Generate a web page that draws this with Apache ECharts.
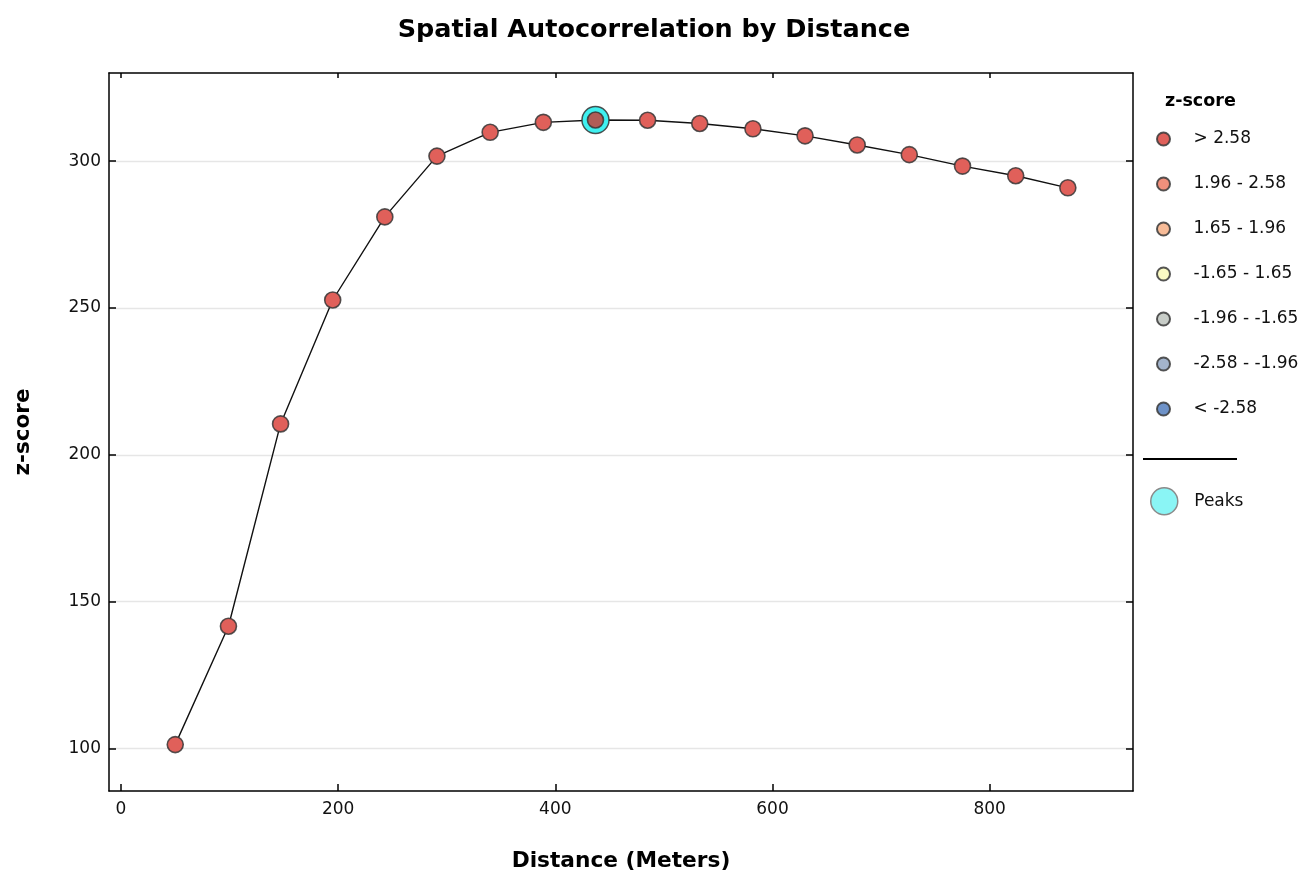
<!DOCTYPE html>
<html><head><meta charset="utf-8">
<script src="https://cdn.jsdelivr.net/npm/echarts@6/dist/echarts.min.js"></script>
<style>html,body{margin:0;padding:0;background:#fff}#c{width:1308px;height:871px}</style>
</head><body><div id="c"></div>
<script>
const distances = [50, 99, 147, 195, 243, 291, 340, 389, 437, 485, 533, 582, 630, 678, 726, 775, 824, 872];
const zScores = [101.3, 141.6, 210.5, 252.7, 281.0, 301.7, 309.8, 313.2, 314.0, 313.9, 312.8, 311.0, 308.6, 305.5, 302.2, 298.3, 295.0, 290.9];
const peakIndexes = [8];
const xTicks = [0, 200, 400, 600, 800];
const yTicks = [100, 150, 200, 250, 300];
const classNames = ['> 2.58', '1.96 - 2.58', '1.65 - 1.96', '-1.65 - 1.65', '-1.96 - -1.65', '-2.58 - -1.96', '< -2.58'];
const classColors = ['#e0605a', '#f0907c', '#f8bc98', '#fbfbc4', '#c8cdc8', '#a3b4cc', '#6e92c8'];

const FONT = 'DejaVu Sans';
const chart = echarts.init(document.getElementById('c'), null, {renderer: 'canvas'});

const points = distances.map((d, i) => {
  const item = {value: [d, zScores[i]]};
  if (peakIndexes.indexOf(i) >= 0) item.itemStyle = {color: '#b05c57'};
  return item;
});
const linePoints = distances.map((d, i) => [d, zScores[i]]);
const peaks = peakIndexes.map(i => [distances[i], zScores[i]]);

const classSeries = classNames.map((name, k) => ({
  name: name,
  type: 'scatter',
  xAxisIndex: 0, yAxisIndex: 0,
  data: k === 0 ? points : [],
  symbol: 'circle',
  symbolSize: 16,
  z: 4,
  itemStyle: {color: classColors[k], borderColor: 'rgba(55,55,55,0.85)', borderWidth: 1.6, opacity: 1},
  emphasis: {disabled: true}
}));

const axisCommon = {
  type: 'value',
  axisLine: {show: true, onZero: false, lineStyle: {color: '#000', width: 1.5}},
  axisTick: {show: true, inside: true, length: 7, lineStyle: {color: '#000', width: 1.5}},
};

const option = {
  animation: false,
  backgroundColor: '#fff',
  title: {
    text: 'Spatial Autocorrelation by Distance',
    left: 'center', top: 12,
    textStyle: {fontFamily: FONT, fontSize: 25.5, fontWeight: 'bold', color: '#000'}
  },
  grid: {left: 109, right: 175, top: 73, bottom: 80, containLabel: false, outerBoundsMode: 'none'},
  xAxis: [
    Object.assign({}, axisCommon, {
      position: 'bottom', min: -11, max: 932,
      axisTick: Object.assign({}, axisCommon.axisTick, {customValues: xTicks}),
      axisLabel: {customValues: xTicks, margin: 10, fontFamily: FONT, fontSize: 17, color: '#111'},
      splitLine: {show: false},
      name: 'Distance (Meters)', nameLocation: 'middle', nameGap: 59,
      nameTextStyle: {fontFamily: FONT, fontSize: 21.7, fontWeight: 'bold', color: '#000'}
    }),
    Object.assign({}, axisCommon, {
      position: 'top', min: -11, max: 932,
      axisTick: Object.assign({}, axisCommon.axisTick, {length: 5, customValues: xTicks}),
      axisLabel: {show: false},
      splitLine: {show: false}
    })
  ],
  yAxis: [
    Object.assign({}, axisCommon, {
      position: 'left', min: 85.5, max: 330,
      axisTick: Object.assign({}, axisCommon.axisTick, {customValues: yTicks}),
      axisLabel: {customValues: yTicks, margin: 8, fontFamily: FONT, fontSize: 17, color: '#111'},
      splitLine: {show: true, lineStyle: {color: '#e6e6e6', width: 1.3}},
      name: 'z-score', nameLocation: 'middle', nameGap: 75, nameRotate: 90,
      nameTextStyle: {fontFamily: FONT, fontSize: 21.5, fontWeight: 'bold', color: '#000'}
    }),
    Object.assign({}, axisCommon, {
      position: 'right', min: 85.5, max: 330,
      axisTick: Object.assign({}, axisCommon.axisTick, {customValues: yTicks}),
      axisLabel: {show: false},
      splitLine: {show: false}
    })
  ],
  legend: [
    {
      orient: 'vertical', left: 1151, top: 125,
      data: classNames.map(n => ({name: n, icon: 'circle'})),
      itemWidth: 50, itemHeight: 13, itemGap: 27,
      selectedMode: false,
      textStyle: {fontFamily: FONT, fontSize: 17, color: '#111', lineHeight: 18}
    },
    {
      orient: 'vertical', left: 1145, top: 482,
      data: [{name: 'Peaks', icon: 'circle', itemStyle: {color: '#8af5f5', borderColor: '#8a8a8a', borderWidth: 1.5}}],
      itemWidth: 50, itemHeight: 27,
      selectedMode: false,
      textStyle: {fontFamily: FONT, fontSize: 17, color: '#111'}
    }
  ],
  graphic: [
    {type: 'text', left: 1165, top: 92,
     style: {text: 'z-score', fontFamily: FONT, fontSize: 17.5, fontWeight: 'bold', fill: '#000'}},
    {type: 'line', shape: {x1: 1143, y1: 459, x2: 1237, y2: 459},
     style: {stroke: '#000', lineWidth: 2}}
  ],
  series: [
    {
      name: 'trend', type: 'line', data: linePoints,
      xAxisIndex: 0, yAxisIndex: 0,
      showSymbol: false, symbol: 'none', z: 2,
      lineStyle: {color: '#111', width: 1.4},
      emphasis: {disabled: true}
    },
    {
      name: 'Peaks', type: 'scatter', data: peaks,
      xAxisIndex: 0, yAxisIndex: 0,
      symbol: 'circle', symbolSize: 27, z: 3,
      itemStyle: {color: '#3ff0f0', borderColor: 'rgba(50,50,50,0.85)', borderWidth: 1.5, opacity: 1},
      emphasis: {disabled: true}
    }
  ].concat(classSeries)
};
chart.setOption(option);
</script>
</body></html>
